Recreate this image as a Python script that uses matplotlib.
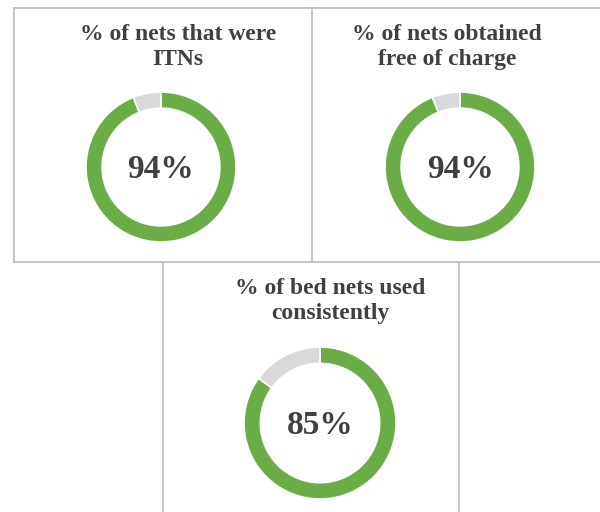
import matplotlib
matplotlib.use('Agg')
import matplotlib.pyplot as plt
from matplotlib.lines import Line2D

plt.rcParams['font.family'] = ['Liberation Serif', 'DejaVu Serif']

# Data
titles = ['% of nets that were\nITNs',
          '% of nets obtained\nfree of charge',
          '% of bed nets used\nconsistently']
values = [94, 94, 85]
labels = ['94%', '94%', '85%']

GREEN = '#6aac46'
GRAY = '#d9d9d9'
TEXT = '#404040'
BORDER = '#c0c0c0'

W, H = 600, 512
fig = plt.figure(figsize=(W / 100, H / 100), dpi=100)

# layout in pixels (x, y from top): donut centre, radius, title centre
donut_pos = [(161, 167, 75), (460, 167, 75), (320, 423, 76)]
title_pos = [(178, 47), (447, 47), (330, 301)]


def px_line(x0, y0, x1, y1):
    fig.add_artist(Line2D([x0 / W, x1 / W], [1 - y0 / H, 1 - y1 / H],
                          transform=fig.transFigure, color=BORDER, lw=1.3))


# panel borders
px_line(14, 8, 600, 8)
px_line(14, 8, 14, 262)
px_line(312, 8, 312, 262)
px_line(14, 262, 600, 262)
px_line(163, 262, 163, 512)
px_line(459, 262, 459, 512)

for (cx, cy, r), (tx, ty), title, v, lab in zip(donut_pos, title_pos, titles, values, labels):
    ax = fig.add_axes([(cx - r) / W, 1 - (cy + r) / H, 2 * r / W, 2 * r / H])
    ax.pie([v, 100 - v], colors=[GREEN, GRAY], startangle=90, counterclock=False,
           radius=1, wedgeprops=dict(width=0.215, edgecolor='white', linewidth=1.2))
    ax.set_xlim(-1, 1)
    ax.set_ylim(-1, 1)
    ax.set_aspect('equal')
    ax.axis('off')
    ax.text(0, -0.03, lab, ha='center', va='center', fontsize=24,
            fontweight='bold', color=TEXT)
    fig.text(tx / W, 1 - ty / H, title, ha='center', va='center', fontsize=17,
             fontweight='bold', color=TEXT, linespacing=1.2)

fig.savefig('out.png', dpi=100, facecolor='white')
